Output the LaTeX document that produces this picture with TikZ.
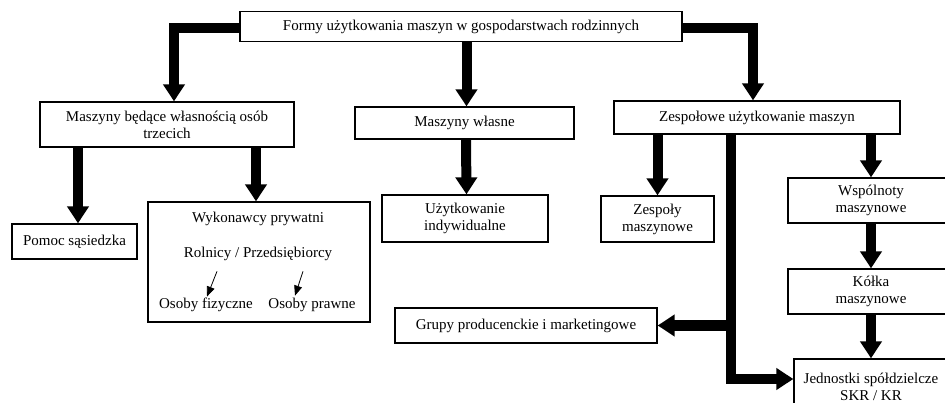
\documentclass[tikz,border=0pt]{standalone}
\usepackage{fontspec}
\setmainfont{Liberation Serif}
\usetikzlibrary{arrows.meta}

\begin{document}
\begin{tikzpicture}[x=1pt, y=-1pt, font=\fontsize{15}{17}\selectfont,
	box/.style={draw, line width=1.3pt, inner sep=0pt, align=center},
	fat/.style={line width=10pt, -{Triangle[width=21pt,length=17pt]}},
	smallarrow/.style={line width=0.8pt, -{Triangle[width=8pt,length=10pt]}}]
\useasboundingbox[fill=white] (0,0) rectangle (945,403);
\node[box, minimum width=442pt, minimum height=30pt] (formy) at (461,26.5) {Formy użytkowania maszyn w gospodarstwach rodzinnych};
\node[box, minimum width=254pt, minimum height=45pt] (trzecich) at (167,124.5) {Maszyny będące własnością osób\\trzecich};
\node[box, minimum width=219pt, minimum height=32pt] (wlasne) at (464.5,123) {Maszyny własne};
\node[box, minimum width=286pt, minimum height=33pt] (zespolowe) at (757,117.5) {Zespołowe użytkowanie maszyn};
\node[box, minimum width=125pt, minimum height=35pt] (pomoc) at (74.5,241.5) {Pomoc sąsiedzka};
\node[box, minimum width=222pt, minimum height=120pt] (wykonawcy) at (259,262) {};
\node (prywatni) at (258,219) {Wykonawcy prywatni};
\node (rolnicy) at (258,254) {Rolnicy / Przedsiębiorcy};
\node (fizyczne) at (206,305) {Osoby fizyczne};
\node (prawne) at (312,305) {Osoby prawne};
\node[box, minimum width=166pt, minimum height=47pt] (indyw) at (465,218.5) {Użytkowanie\\indywidualne};
\node[box, minimum width=113pt, minimum height=46pt] (zespoly) at (657.5,219) {Zespoły\\maszynowe};
\node[box, minimum width=262pt, minimum height=35pt] (grupy) at (526,325.5) {Grupy producenckie i marketingowe};
\node[box, minimum width=166pt, minimum height=45pt] (wspolnoty) at (871,200.5) {Wspólnoty\\maszynowe};
\node[box, minimum width=166pt, minimum height=45pt] (kolka) at (871,291.5) {Kółka\\maszynowe};
\node[box, minimum width=154pt, minimum height=56pt] (jednostki) at (871,387) {Jednostki spółdzielcze\\SKR / KR};
\coordinate (pion) at ([xshift=-26pt]zespolowe.south);

% strzalki
\draw[fat] ([yshift=-1.5pt]formy.west) -| ([xshift=7pt]trzecich.north);
\draw[fat] ([xshift=2pt]formy.south -| wlasne.north) -- ([xshift=2pt]wlasne.north);
\draw[fat] ([yshift=-1.5pt]formy.east) -| ([xshift=-4pt]zespolowe.north);
\draw[fat] ([xshift=3.5pt]trzecich.south -| pomoc.north) -- ([xshift=3.5pt]pomoc.north);
\draw[fat] ([xshift=-3pt]trzecich.south -| wykonawcy.north) -- ([xshift=-3pt]wykonawcy.north);
\draw[fat] ([xshift=1.5pt]wlasne.south) -- ([xshift=1.5pt]indyw.north);
\draw[fat] (zespolowe.south -| zespoly.north) -- (zespoly.north);
\draw[fat] (zespolowe.south -| wspolnoty.north) -- (wspolnoty.north);
\draw[fat] (wspolnoty.south) -- (kolka.north);
\draw[fat] (kolka.south) -- (jednostki.north);
\draw[fat] (pion) |- ([yshift=8pt]jednostki.west);
\draw[fat] (pion |- grupy.east) -- (grupy.east);
\draw[smallarrow] ([shift={(-41pt,-7pt)}]rolnicy.south) -- ([shift={(1pt,-2pt)}]fizyczne.north);
\draw[smallarrow] ([shift={(45pt,-7pt)}]rolnicy.south) -- ([shift={(-17pt,-1pt)}]prawne.north);
\end{tikzpicture}
\end{document}
